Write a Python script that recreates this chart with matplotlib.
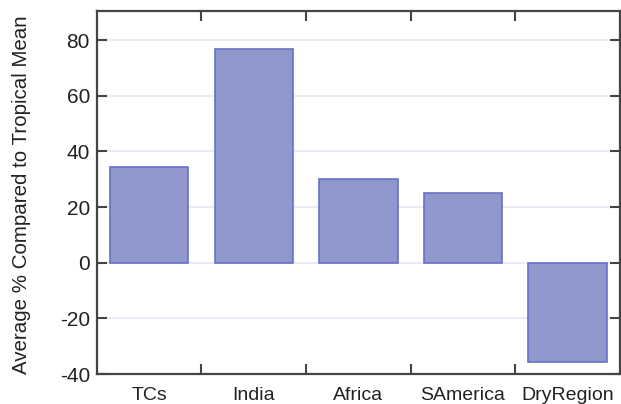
import matplotlib
matplotlib.use("Agg")
import matplotlib.pyplot as plt
import numpy as np

categories = ["TCs", "India", "Africa", "SAmerica", "DryRegion"]
values = [34.5, 76.8, 30.1, 25.0, -35.5]
yticks = [-40, -20, 0, 20, 40, 60, 80]

plt.rcParams['font.family'] = ['Liberation Sans', 'DejaVu Sans']

fig = plt.figure(figsize=(6.21, 4.04), dpi=100)
ax = fig.add_axes([0.156, 0.074, 0.842, 0.899])

x = np.arange(len(categories))
ax.bar(x, values, width=0.75, color='#8f97cd', edgecolor='#6672c4', linewidth=1.2, zorder=3)

ax.set_xlim(-0.5, len(categories) - 0.5)
ax.set_ylim(-40, 90.5)
ax.set_yticks(yticks)
ax.set_yticklabels([str(v) for v in yticks], fontsize=15, color='#222222')
ax.grid(axis='y', color='#e8e8f6', linewidth=1.2, zorder=0)

# Category boundaries as major ticks, labels at centers via minor ticks
ax.set_xticks(np.arange(len(categories) - 1) + 0.5)
ax.set_xticklabels([])
ax.set_xticks(x, minor=True)
ax.set_xticklabels(categories, minor=True, fontsize=14, color='#222222')
ax.tick_params(axis='x', which='minor', length=0, pad=9)
ax.tick_params(axis='y', which='major', pad=5)
ax.tick_params(axis='both', which='major', direction='in', length=7, width=1.5,
               color='#444444', top=True, right=True)

for s in ax.spines.values():
    s.set_color('#444444')
    s.set_linewidth(1.6)

ax.set_ylabel("Average % Compared to Tropical Mean", fontsize=14.8, color='#222222')
ax.yaxis.set_label_coords(-0.126, 0.495)

fig.savefig("out.png", dpi=100)
